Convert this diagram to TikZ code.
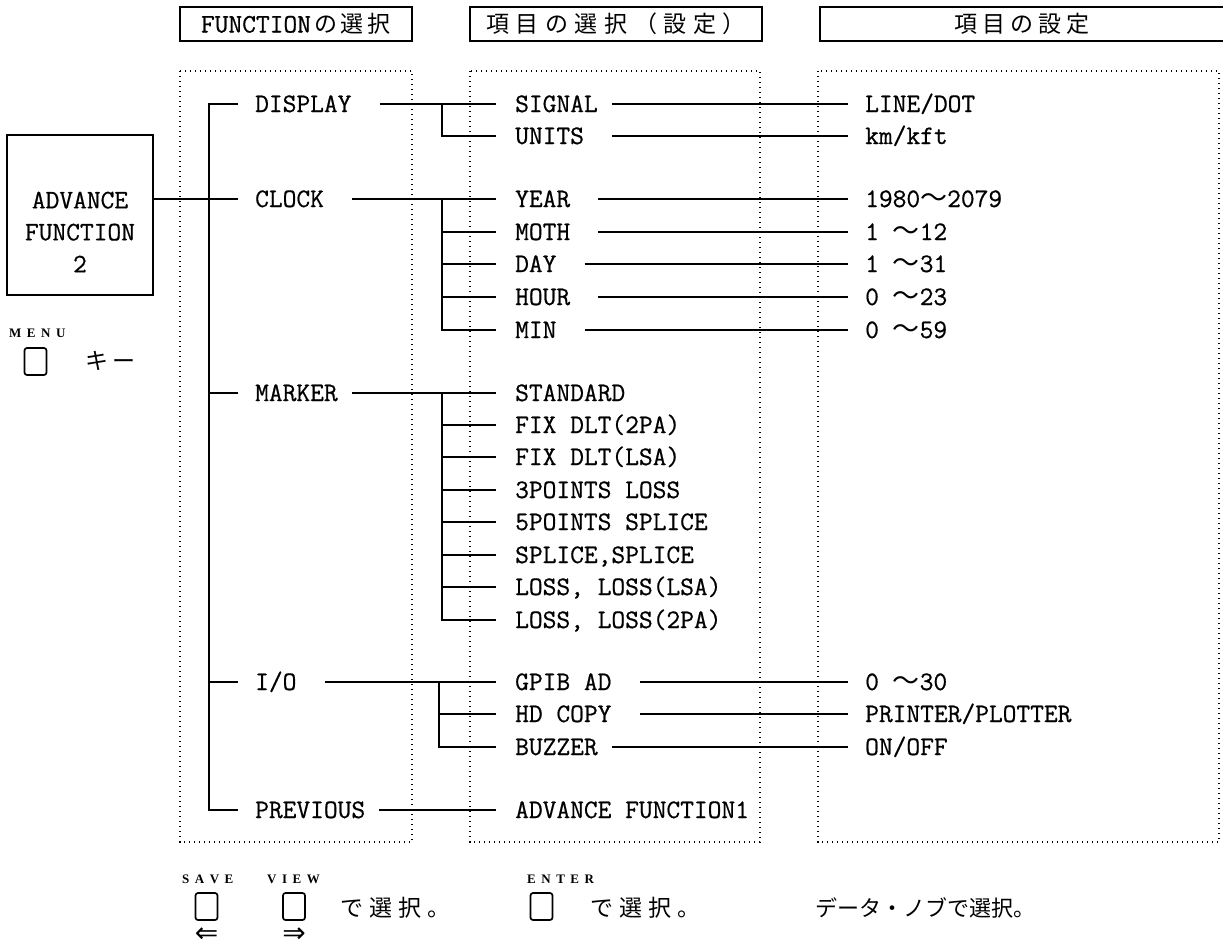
\documentclass[tikz,border=0pt]{standalone}
\usepackage{fontspec}
\setmonofont{Latin Modern Mono}
\newfontfamily\lbttf[FakeBold=0.6]{Latin Modern Mono}
\newfontfamily\jpf{Noto Sans CJK JP}
\newfontfamily\symf{DejaVu Sans}
\newfontfamily\keyf{Liberation Serif}
\newcommand\lbfont{\fontsize{26.7}{32}\lbttf}
\newcommand\wv{{\fontsize{27}{27}\jpf ～}}
\newcommand\jk[1]{\kern#1pt\relax}
\newcommand\kg{\hspace{5.5pt}}
\begin{document}
\begin{tikzpicture}[x=1pt,y=-1pt,
  lab/.style={font=\lbfont, inner sep=0pt, anchor=west, text height=16pt, text depth=0pt},
  jp/.style={font=\fontsize{23}{23}\jpf, inner sep=0pt, text height=20pt, text depth=3pt},
  tree/.style={line width=1.5pt},
  dotbox/.style={line width=1.2pt, dash pattern=on 1.4pt off 3.6pt},
  hdrbox/.style={draw, line width=1.5pt, inner sep=0pt, minimum height=34pt},
  keybox/.style={draw, line width=1.7pt, rounded corners=2.5pt, minimum width=22pt, minimum height=27pt, inner sep=0pt},
  keylab/.style={font=\fontsize{13}{13}\keyf\bfseries, inner sep=0pt, anchor=base west},
  arr/.style={font=\fontsize{28}{28}\symf, inner sep=0pt, text height=18pt, text depth=0pt}]
\fill[white] (0,0) rectangle (1223,948);
\useasboundingbox (0,0) rectangle (1223,948);

% headers
\node[hdrbox, jp, minimum width=232pt] (h1) at (296,24) {{\lbfont FUNCTION}\jk3の\jk4選\jk4択};
\node[hdrbox, jp, minimum width=292pt] (h2) at (616,24) {項\jk{6.5}目\jk{6.5}の\jk{6.5}選\jk{6.5}択\jk{6.5}（\jk{6.5}設\jk{6.5}定\jk{6.5}）};
\draw[line width=1.5pt] (1226,7) -- (820,7) -- (820,41) -- (1226,41);
\node[jp] (h3) at (1022,24) {項\jk5目\jk5の\jk5設\jk5定};

% dotted frames
\draw[dotbox] (180,71) rectangle (412,842);
\draw[dotbox] (470,71) rectangle (760,842);
\draw[dotbox] (818,71) rectangle (1219,842);

% ADVANCE FUNCTION 2 box
\node[draw, line width=1.5pt, minimum width=146pt, minimum height=160pt, inner sep=0pt] (af2) at (80,215) {};
\node[font=\lbfont, align=center, inner sep=0pt] (af2t) at (80,232) {ADVANCE\\FUNCTION\\2};

% level 1
\node[lab] (disp) at (255,104) {DISPLAY};
\node[lab] (clock) at (255,199) {CLOCK};
\node[lab] (marker) at (255,393) {MARKER};
\node[lab] (io) at (255,682) {I/O};
\node[lab] (prev) at (255,810) {PREVIOUS};

% level 2
\node[lab] (sig) at (515,104) {SIGNAL};
\node[lab] (units) at (515,136) {UNITS};
\node[lab] (year) at (515,199) {YEAR};
\node[lab] (moth) at (515,232) {MOTH};
\node[lab] (day) at (515,264) {DAY};
\node[lab] (hour) at (515,297) {HOUR};
\node[lab] (min) at (515,330) {MIN};
\node[lab] (std) at (515,393) {STANDARD};
\node[lab] (fixa) at (515,425) {FIX DLT(2PA)};
\node[lab] (fixb) at (515,457) {FIX DLT(LSA)};
\node[lab] (pta) at (515,490) {3POINTS LOSS};
\node[lab] (ptb) at (515,522) {5POINTS SPLICE};
\node[lab] (spl) at (515,555) {SPLICE,SPLICE};
\node[lab] (lossa) at (515,587) {LOSS, LOSS(LSA)};
\node[lab] (lossb) at (515,620) {LOSS, LOSS(2PA)};
\node[lab] (gpib) at (515,682) {GPIB AD};
\node[lab] (hdc) at (515,714) {HD COPY};
\node[lab] (buz) at (515,747) {BUZZER};
\node[lab] (af1) at (515,810) {ADVANCE FUNCTION1};

% level 3
\node[lab] (ld) at (865,104) {LINE/DOT};
\node[lab] (km) at (865,136) {km/kft};
\node[lab] (yr) at (865,199) {1980\wv2079};
\node[lab] (mo) at (865,232) {1 \wv12};
\node[lab] (dy) at (865,264) {1 \wv31};
\node[lab] (hr) at (865,297) {0 \wv23};
\node[lab] (mi) at (865,330) {0 \wv59};
\node[lab] (ga) at (865,682) {0 \wv30};
\node[lab] (pp) at (865,714) {PRINTER/PLOTTER};
\node[lab] (oo) at (865,747) {ON/OFF};

% trunk
\draw[tree] ([xshift=-17pt]disp.west) -- ([xshift=-46pt]disp.west) -- ([xshift=-46pt]prev.west) -- ([xshift=-17pt]prev.west);
\foreach \n in {clock,marker,io}
  \draw[tree] ([xshift=-46pt]\n.west) -- ([xshift=-17pt]\n.west);
\draw[tree] (af2.east |- clock.west) -- ([xshift=-46pt]clock.west);

% level 1 -> level 2
\foreach \a/\b/\g in {disp/sig/28,clock/year/28,marker/std/14,io/gpib/28,prev/af1/14}
  \draw[tree] ([xshift=\g pt]\a.east) -- ([xshift=-19pt]\b.west);

% branches
\draw[tree] ([xshift=-73pt]sig.west) |- ([xshift=-19pt]units.west);
\draw[tree] ([xshift=-73pt]year.west) |- ([xshift=-19pt]min.west);
\foreach \n in {moth,day,hour}
  \draw[tree] ([xshift=-73pt]\n.west) -- ([xshift=-19pt]\n.west);
\draw[tree] ([xshift=-73pt]std.west) |- ([xshift=-19pt]lossb.west);
\foreach \n in {fixa,fixb,pta,ptb,spl,lossa}
  \draw[tree] ([xshift=-73pt]\n.west) -- ([xshift=-19pt]\n.west);
\draw[tree] ([xshift=-76pt]gpib.west) |- ([xshift=-19pt]buz.west);
\draw[tree] ([xshift=-76pt]hdc.west) -- ([xshift=-19pt]hdc.west);

% level 2 -> level 3
\foreach \a/\b/\g in {sig/ld/14,units/km/28,year/yr/28,moth/mo/28,day/dy/28,hour/hr/28,min/mi/28,gpib/ga/28,hdc/pp/28,buz/oo/14}
  \draw[tree] ([xshift=\g pt]\a.east) -- ([xshift=-17pt]\b.west);

% MENU key
\node[keylab] (lmenu) at (9,337) {M\kg E\kg N\kg U};
\node[keybox] (kmenu) at (35.5,361.5) {};
\node[jp, anchor=west] (kii) at (85,361) {キ\jk4ー};

% footer
\node[keylab] (lsave) at (182,883) {S\kg A\kg V\kg E};
\node[keybox] (ksave) at (206.5,906.5) {};
\node[arr] (asave) at (206.5,933) {⇐};
\node[keylab] (lview) at (267,883) {V\kg I\kg E\kg W};
\node[keybox] (kview) at (294,906.5) {};
\node[arr] (aview) at (294,933) {⇒};
\node[jp, anchor=west] (t1) at (340,908) {で\jk6選\jk6択\jk6。};
\node[keylab] (lenter) at (527,883) {E\kg N\kg T\kg E\kg R};
\node[keybox] (kenter) at (541.5,906.5) {};
\node[jp, anchor=west] (t2) at (590,908) {で\jk6選\jk6択\jk6。};
\node[jp, anchor=west, font=\fontsize{22}{22}\jpf] (t3) at (815,908) {データ・ノブで選択。};
\end{tikzpicture}
\end{document}
